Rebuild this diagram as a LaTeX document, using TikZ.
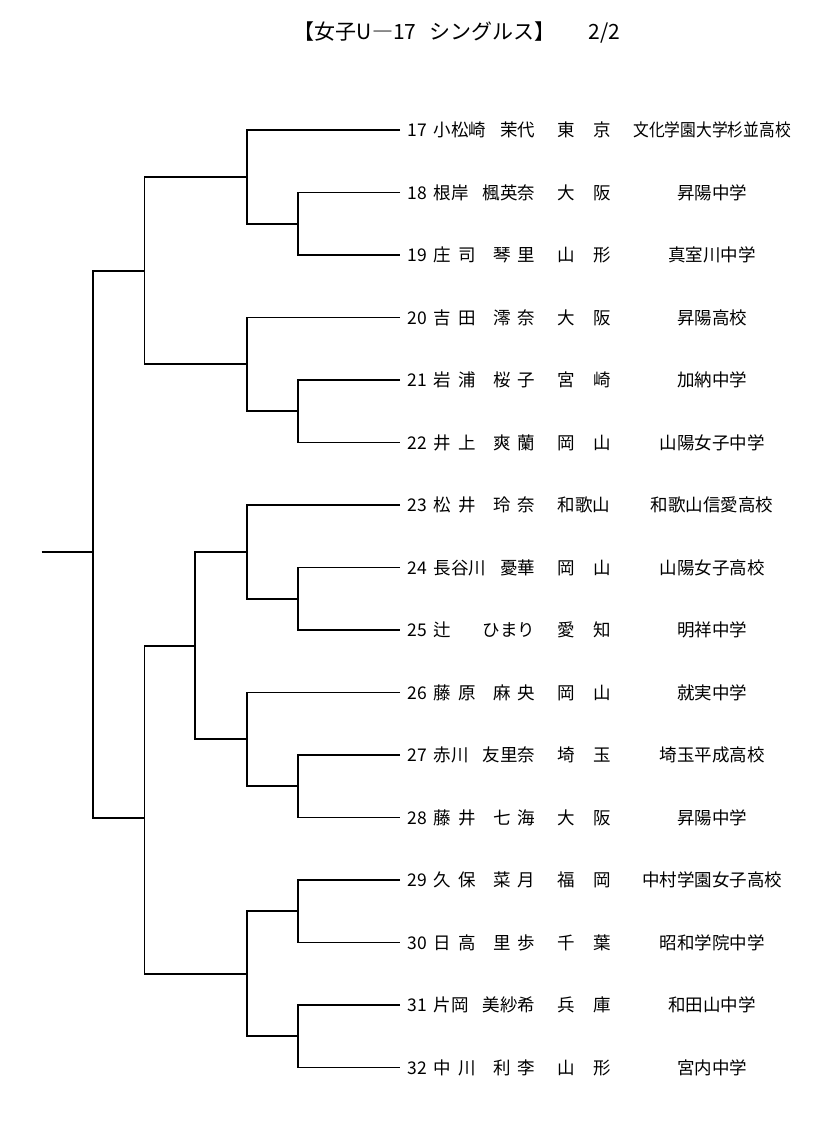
\documentclass[tikz,border=0pt]{standalone}
\usepackage{fontspec}
\setmainfont{Noto Sans CJK JP}
\usepackage{tikz}
\newcommand{\jsp}{\hspace{7pt}}
\newcommand{\psp}{\hspace{19pt}}

\begin{document}
\begin{tikzpicture}[x=1pt, y=-1pt, line width=1.9pt,
  txt/.style={font=\fontsize{17.5}{20}\selectfont, inner sep=0pt}]

\path[use as bounding box] (0,0) rectangle (826,1136);

\node[font=\fontsize{21}{24}\selectfont, inner sep=0pt, anchor=base west] (title) at (293,39) {【女子U―17\hspace{0.6em}シングルス】\hspace{1.6em}2/2};

\foreach \n/\sur/\giv/\pref/\sch in {
  17/小松崎/茉代/東\psp 京/{\scalebox{0.9}[1]{文化学園大学杉並高校}},
  18/根岸/楓英奈/大\psp 阪/昇陽中学,
  19/庄\jsp 司/琴\jsp 里/山\psp 形/真室川中学,
  20/吉\jsp 田/澪\jsp 奈/大\psp 阪/昇陽高校,
  21/岩\jsp 浦/桜\jsp 子/宮\psp 崎/加納中学,
  22/井\jsp 上/爽\jsp 蘭/岡\psp 山/山陽女子中学,
  23/松\jsp 井/玲\jsp 奈/和歌山/和歌山信愛高校,
  24/長谷川/憂華/岡\psp 山/山陽女子高校,
  25/辻/ひまり/愛\psp 知/明祥中学,
  26/藤\jsp 原/麻\jsp 央/岡\psp 山/就実中学,
  27/赤川/友里奈/埼\psp 玉/埼玉平成高校,
  28/藤\jsp 井/七\jsp 海/大\psp 阪/昇陽中学,
  29/久\jsp 保/菜\jsp 月/福\psp 岡/中村学園女子高校,
  30/日\jsp 高/里\jsp 歩/千\psp 葉/昭和学院中学,
  31/片岡/美紗希/兵\psp 庫/和田山中学,
  32/中\jsp 川/利\jsp 李/山\psp 形/宮内中学}{
  \coordinate (p\n) at (400,{130+62.5*(\n-17)});
  \node[txt, anchor=base west] (n\n) at (407,{136.5+62.5*(\n-17)}) {\n};
  \node[txt, anchor=base west] (s\n) at (433,{136.5+62.5*(\n-17)}) {\sur};
  \node[txt, anchor=base east] (g\n) at (536,{136.5+62.5*(\n-17)}) {\giv};
  \node[txt, anchor=base] (r\n) at (584,{136.5+62.5*(\n-17)}) {\pref};
  \node[txt, anchor=base] (c\n) at (712,{136.5+62.5*(\n-17)}) {\sch};
}

\foreach \a/\b in {18/19,21/22,24/25,27/28,29/30,31/32}{
  \coordinate (m\a\b) at (298,{130+62.5*(\a-16.5)});
  \draw (p\a) -| (m\a\b) |- (p\b);
}

\coordinate (m1719) at (247,176.9);
\coordinate (m2022) at (247,364.4);
\coordinate (m2325) at (247,551.9);
\coordinate (m2628) at (247,739.4);
\coordinate (m2932) at (247,973.75);
\coordinate (m1722) at (144.5,270.6);
\coordinate (m2328) at (195,645.6);
\coordinate (m2332) at (144.5,818);
\coordinate (m1732) at (92.7,551.7);
\coordinate (root) at (41.7,551.7);

\draw (p17) -| (m1719) |- (m1819);
\draw (p20) -| (m2022) |- (m2122);
\draw (p23) -| (m2325) |- (m2425);
\draw (p26) -| (m2628) |- (m2728);
\draw (m2930) -| (m2932) |- (m3132);
\draw (m1719) -| (m1722) |- (m2022);
\draw (m2325) -| (m2328) |- (m2628);
\draw (m2328) -| (m2332) |- (m2932);
\draw (m1722) -| (m1732) |- (m2332);
\draw (root) -- (m1732);
\end{tikzpicture}
\end{document}
